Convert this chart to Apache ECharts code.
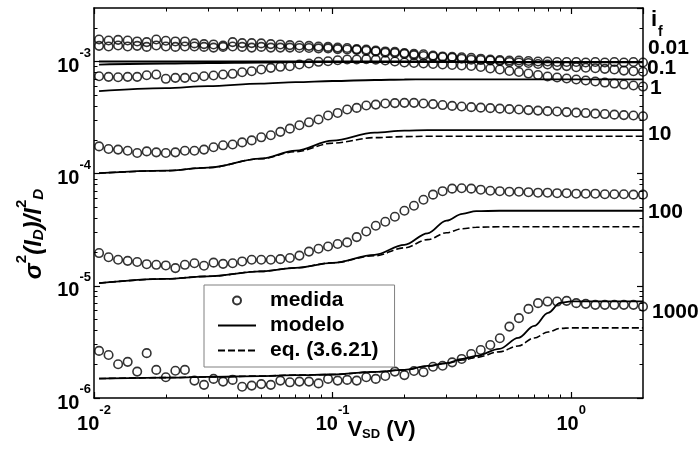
<!DOCTYPE html>
<html><head><meta charset="utf-8">
<script src="https://cdn.jsdelivr.net/npm/echarts@6/dist/echarts.min.js"></script>
<style>html,body{margin:0;padding:0;background:#fff}#c{width:698px;height:450px}</style>
</head><body><div id="c"></div>
<script>
// V_SD (V) of the measured points
const vsd = [0.0105,0.01151,0.01262,0.01384,0.01517,0.01663,0.01824,0.02,0.02193,0.02404,0.02636,0.02891,0.0317,0.03475,0.03811,0.04178,0.04581,0.05023,0.05508,0.06039,0.06622,0.07261,0.07962,0.0873,0.09572,0.105,0.1151,0.1262,0.1384,0.1517,0.1663,0.1824,0.2,0.2193,0.2404,0.2636,0.2891,0.317,0.3475,0.3811,0.4178,0.4581,0.5023,0.5508,0.6039,0.6622,0.7261,0.7962,0.873,0.9572,1.05,1.151,1.262,1.384,1.517,1.663,1.824,2.0];

// measured sigma^2(I_D)/I_D^2  (values in units noted)
const medida_if001 = [1.57,1.54,1.56,1.54,1.51,1.49,1.57,1.53,1.51,1.51,1.45,1.43,1.42,1.39,1.49,1.46,1.46,1.45,1.43,1.42,1.40,1.39,1.38,1.36,1.35,1.33,1.32,1.29,1.28,1.25,1.23,1.22,1.19,1.17,1.16,1.13,1.11,1.10,1.09,1.08,1.06,1.04,1.03,1.02,1.02,1.01,1.00,1.00,0.99,0.99,0.99,0.98,0.99,0.98,0.99,0.98,0.99,0.98]; // x1e-3
const medida_if01 = [1.38,1.36,1.39,1.36,1.38,1.35,1.39,1.36,1.35,1.36,1.36,1.35,1.33,1.35,1.36,1.35,1.33,1.35,1.33,1.33,1.33,1.32,1.32,1.31,1.31,1.29,1.28,1.27,1.25,1.23,1.20,1.19,1.17,1.14,1.12,1.11,1.09,1.08,1.06,1.04,1.03,1.02,1.01,0.99,0.98,0.97,0.95,0.94,0.92,0.91,0.89,0.88,0.87,0.86,0.85,0.83,0.82,0.81]; // x1e-3
const medida_if1 = [0.739,0.730,0.724,0.730,0.730,0.755,0.765,0.701,0.715,0.715,0.724,0.739,0.750,0.765,0.777,0.803,0.819,0.848,0.878,0.897,0.908,0.940,0.960,0.994,1.006,1.027,1.042,1.042,1.05,1.04,1.02,1.00,0.980,0.970,0.960,0.950,0.940,0.931,0.921,0.912,0.893,0.866,0.848,0.823,0.806,0.781,0.758,0.735,0.720,0.705,0.691,0.677,0.663,0.649,0.636,0.623,0.611,0.598]; // x1e-3
const medida_if10 = [1.75,1.66,1.64,1.60,1.53,1.58,1.55,1.53,1.55,1.60,1.60,1.64,1.72,1.79,1.82,1.90,1.98,2.11,2.20,2.36,2.52,2.70,2.87,3.04,3.30,3.48,3.73,3.86,4.05,4.13,4.22,4.26,4.28,4.28,4.22,4.17,4.09,4.02,3.97,3.92,3.88,3.84,3.80,3.76,3.73,3.69,3.65,3.61,3.58,3.54,3.50,3.47,3.43,3.40,3.36,3.33,3.30,3.25]; // x1e-4
const medida_if100 = [1.96,1.80,1.71,1.67,1.63,1.56,1.54,1.52,1.44,1.54,1.59,1.51,1.61,1.57,1.59,1.65,1.71,1.71,1.71,1.73,1.77,1.86,2.02,2.14,2.24,2.36,2.44,2.72,3.05,3.43,3.73,4.13,4.67,5.18,5.86,6.50,6.98,7.35,7.42,7.35,7.20,7.05,6.98,6.91,6.91,6.84,6.77,6.77,6.70,6.70,6.63,6.63,6.63,6.56,6.56,6.56,6.50,6.50]; // x1e-5
const medida_if1000 = [2.63,2.42,2.00,2.10,1.72,2.51,1.78,1.53,1.75,1.78,1.43,1.31,1.48,1.40,1.45,1.26,1.29,1.33,1.31,1.43,1.38,1.40,1.40,1.35,1.48,1.43,1.45,1.43,1.53,1.48,1.57,1.72,1.60,1.74,1.70,1.90,1.94,2.08,2.23,2.47,2.68,2.97,3.41,4.33,5.15,6.23,7.01,7.24,7.24,7.35,7.01,6.91,6.77,6.77,6.77,6.77,6.77,6.53]; // x1e-6

// model curves
const vmod = [0.0105,0.02,0.03,0.05,0.07,0.1,0.15,0.2,0.25,0.3,0.35,0.4,0.5,0.6,0.7,0.8,0.9,1.0,1.2,1.5,2.0];
const modelo_if001 = [1.00,1.00,1.00,1.00,1.00,1.00,1.00,1.00,1.00,1.00,0.995,0.995,0.99,0.99,0.99,0.99,0.99,0.99,0.99,0.99,0.99]; // x1e-3
const modelo_if01 = [0.94,0.96,0.97,0.98,0.99,0.99,0.99,0.99,0.99,0.99,0.99,0.99,0.985,0.985,0.985,0.985,0.985,0.985,0.985,0.985,0.985]; // x1e-3
const modelo_if1 = [0.545,0.58,0.604,0.636,0.656,0.67,0.684,0.691,0.693,0.693,0.693,0.693,0.693,0.693,0.693,0.693,0.693,0.693,0.693,0.693,0.693]; // x1e-3
const modelo_if10 = [1.01,1.063,1.131,1.361,1.604,1.971,2.32,2.42,2.45,2.45,2.45,2.45,2.45,2.45,2.45,2.45,2.45,2.45,2.45,2.45,2.45]; // x1e-4
const eq_if10 = [1.01,1.063,1.131,1.361,1.572,1.872,2.096,2.14,2.155,2.155,2.155,2.155,2.155,2.155,2.155,2.155,2.155,2.155,2.155,2.155,2.155]; // x1e-4
const modelo_if100 = [1.057,1.155,1.216,1.347,1.448,1.604,1.891,2.32,2.94,3.81,4.39,4.63,4.67,4.67,4.67,4.67,4.67,4.67,4.67,4.67,4.67]; // x1e-5
const eq_if100 = [1.057,1.155,1.216,1.347,1.448,1.604,1.853,2.18,2.58,2.97,3.23,3.33,3.36,3.36,3.36,3.36,3.36,3.36,3.36,3.36,3.36]; // x1e-5
const modelo_if1000 = [1.49,1.52,1.54,1.57,1.60,1.62,1.71,1.78,1.93,2.05,2.23,2.37,2.74,3.43,4.39,5.74,7.05,7.28,7.28,7.28,7.28]; // x1e-6
const eq_if1000 = [1.49,1.52,1.54,1.57,1.60,1.62,1.71,1.78,1.92,2.03,2.18,2.30,2.58,2.91,3.43,3.88,4.17,4.22,4.22,4.22,4.22]; // x1e-6

const ifLabels = ['0.01','0.1','1','10','100','1000'];
const legendNames = ['medida','modelo','eq. (3.6.21)'];

const FONT = 'Arial, "Liberation Sans", sans-serif';
function pairs(xs, ys, unit){ return ys.map((y,i)=>[xs[i], y*unit]); }

const measured = [[medida_if001,1e-3],[medida_if01,1e-3],[medida_if1,1e-3],[medida_if10,1e-4],[medida_if100,1e-5],[medida_if1000,1e-6]];
const models = [[modelo_if001,1e-3],[modelo_if01,1e-3],[modelo_if1,1e-3],[modelo_if10,1e-4],[modelo_if100,1e-5],[modelo_if1000,1e-6]];
const eqs = [[eq_if10,1e-4],[eq_if100,1e-5],[eq_if1000,1e-6]];

const hidden = 'rgba(0,0,0,0)';
const series = [];
models.forEach(([a,u])=>series.push({type:'line', name:legendNames[1], data:pairs(vmod,a,u), symbol:'none', showSymbol:false,
  smooth:0.35, smoothMonotone:'x', lineStyle:{color:'#000', width:1.8}, itemStyle:{color:hidden, borderColor:hidden, borderWidth:0}, z:2, animation:false}));
eqs.forEach(([a,u])=>series.push({type:'line', name:legendNames[2], data:pairs(vmod,a,u), symbol:'none', showSymbol:false,
  smooth:0.35, smoothMonotone:'x', lineStyle:{color:'#000', width:1.6, type:[7,3]}, itemStyle:{color:hidden, borderColor:hidden, borderWidth:0}, z:2, animation:false}));
measured.forEach(([a,u])=>series.push({type:'scatter', name:legendNames[0], data:pairs(vsd,a,u), symbol:'circle', symbolSize:8.5,
  itemStyle:{color:hidden, borderColor:'#000', borderWidth:1.6}, z:3, animation:false}));

function decadeLabel(v){
  const e = Math.log10(v), r = Math.round(e);
  if (Math.abs(e-r) > 1e-6) return '';
  return '{b|10}{s|' + (r<0?'-':'') + Math.abs(r) + '}';
}
const tickRich = {
  b:{fontSize:20, fontWeight:'bold', fontFamily:FONT, color:'#000', lineHeight:30, verticalAlign:'bottom'},
  s:{fontSize:13, fontWeight:'bold', fontFamily:FONT, color:'#000', lineHeight:13, verticalAlign:'top'}
};
function minorTicks(d0, d1, maxLog){
  const out = [];
  for (let d=d0; d<=d1; d++) for (let m=2; m<=9; m++){ const v = d+Math.log10(m); if (v < maxLog-1e-9) out.push(v); }
  return out;
}
const XMIN=0.01, XMAX=2, YMIN=1e-6, YMAX=3e-3;
const xMinor = minorTicks(-2, 0, Math.log10(XMAX));
const yMinor = minorTicks(-6, -3, Math.log10(YMAX));
const axLine = {show:true, onZero:false, lineStyle:{color:'#000', width:1.5}};
const noLine = {show:false, onZero:false};
const majTick = {show:true, inside:true, length:6, lineStyle:{color:'#000', width:1.2}};
const minTick = (vals)=>({show:true, inside:true, length:3.5, customValues:vals, lineStyle:{color:'#000', width:1}});

const option = {
  backgroundColor:'#fff',
  animation:false,
  grid:{left:94, top:8, width:549, height:390, outerBoundsMode:'none', containLabel:false},
  legend:{
    data:[{name:legendNames[0]},
          {name:legendNames[1], itemStyle:{color:hidden, borderColor:hidden, borderWidth:0, opacity:0}},
          {name:legendNames[2], itemStyle:{color:hidden, borderColor:hidden, borderWidth:0, opacity:0}}],
    orient:'vertical', left:204, top:285,
    padding:[5,16,6,13], itemGap:4, itemWidth:38, itemHeight:8,
    backgroundColor:'#fff', borderColor:'#808080', borderWidth:1, borderRadius:0,
    textStyle:{fontSize:21, fontWeight:'bold', fontFamily:FONT, color:'#000', lineHeight:21, padding:[0,0,0,9]},
    selectedMode:false
  },
  xAxis:[
    {type:'log', logBase:10, min:XMIN, max:XMAX, position:'bottom', axisLine:axLine, axisTick:majTick,
     splitLine:{show:false}, axisLabel:{formatter:decadeLabel, rich:tickRich, margin:6, showMaxLabel:false},
     name:'{v|V}{sub|SD}{v| (V)}', nameLocation:'middle', nameGap:21, nameMoveOverlap:false,
     nameTextStyle:{padding:[0,0,0,26], rich:{
       v:{fontSize:22, fontWeight:'bold', fontFamily:FONT, color:'#000', lineHeight:22, verticalAlign:'top'},
       sub:{fontSize:13, fontWeight:'bold', fontFamily:FONT, color:'#000', lineHeight:13, verticalAlign:'bottom', padding:[8,0,0,0]}}}},
    {type:'value', min:Math.log10(XMIN), max:Math.log10(XMAX), position:'bottom', axisLine:noLine, axisTick:minTick(xMinor), axisLabel:{show:false}, splitLine:{show:false}},
    {type:'log', logBase:10, min:XMIN, max:XMAX, position:'top', axisLine:axLine, axisTick:majTick, axisLabel:{show:false}, splitLine:{show:false}},
    {type:'value', min:Math.log10(XMIN), max:Math.log10(XMAX), position:'top', axisLine:noLine, axisTick:minTick(xMinor), axisLabel:{show:false}, splitLine:{show:false}}
  ],
  yAxis:[
    {type:'log', logBase:10, min:YMIN, max:YMAX, position:'left', axisLine:axLine, axisTick:majTick,
     splitLine:{show:false}, axisLabel:{formatter:decadeLabel, rich:tickRich, margin:3, showMaxLabel:false},
     name:'{a|σ}{sup|2}{a|(}{i|I}{sub|D}{a|)/}{i|I}{sup|2}{sub|D}', nameLocation:'middle', nameGap:48, nameRotate:90, nameMoveOverlap:false,
     nameTextStyle:{padding:[0,62,0,0], rich:{
       a:{fontSize:24, fontWeight:'bold', fontStyle:'italic', fontFamily:FONT, color:'#000', lineHeight:32, verticalAlign:'bottom'},
       i:{fontSize:24, fontWeight:'bold', fontStyle:'italic', fontFamily:FONT, color:'#000', lineHeight:32, verticalAlign:'bottom'},
       sup:{fontSize:15, fontWeight:'bold', fontFamily:FONT, color:'#000', lineHeight:15, verticalAlign:'top'},
       sub:{fontSize:15, fontWeight:'bold', fontStyle:'italic', fontFamily:FONT, color:'#000', lineHeight:15, verticalAlign:'bottom'}}}},
    {type:'value', min:Math.log10(YMIN), max:Math.log10(YMAX), position:'left', axisLine:noLine, axisTick:minTick(yMinor), axisLabel:{show:false}, splitLine:{show:false}},
    {type:'log', logBase:10, min:YMIN, max:YMAX, position:'right', axisLine:axLine, axisTick:majTick, axisLabel:{show:false}, splitLine:{show:false}},
    {type:'value', min:Math.log10(YMIN), max:Math.log10(YMAX), position:'right', axisLine:noLine, axisTick:minTick(yMinor), axisLabel:{show:false}, splitLine:{show:false}}
  ],
  series:series,
  graphic:[
    {type:'text', x:651, y:20, style:{text:'i', font:'bold 22px '+FONT, fill:'#000', verticalAlign:'middle'}},
    {type:'text', x:658, y:32, style:{text:'f', font:'bold 14px '+FONT, fill:'#000', verticalAlign:'middle'}},
    {type:'text', x:648, y:48, style:{text:ifLabels[0], font:'bold 21px '+FONT, fill:'#000', verticalAlign:'middle'}},
    {type:'text', x:647, y:68, style:{text:ifLabels[1], font:'bold 21px '+FONT, fill:'#000', verticalAlign:'middle'}},
    {type:'text', x:650, y:88, style:{text:ifLabels[2], font:'bold 21px '+FONT, fill:'#000', verticalAlign:'middle'}},
    {type:'text', x:648, y:134, style:{text:ifLabels[3], font:'bold 21px '+FONT, fill:'#000', verticalAlign:'middle'}},
    {type:'text', x:648, y:212, style:{text:ifLabels[4], font:'bold 21px '+FONT, fill:'#000', verticalAlign:'middle'}},
    {type:'text', x:652, y:312, style:{text:ifLabels[5], font:'bold 21px '+FONT, fill:'#000', verticalAlign:'middle'}}
  ]
};
const chart = echarts.init(document.getElementById('c'), null, {renderer:'canvas', width:698, height:450});
chart.setOption(option);
</script></body></html>
